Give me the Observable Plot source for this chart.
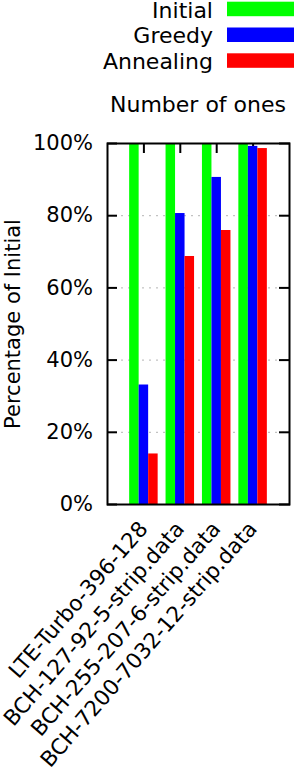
<!DOCTYPE html>
<html><head><meta charset="utf-8">
<script src="https://cdn.jsdelivr.net/npm/d3@7"></script>
<script src="https://cdn.jsdelivr.net/npm/@observablehq/plot@0.6"></script>
<style>
body{margin:0;background:#fff;}
#chart{width:294px;height:772px;position:relative;overflow:hidden;font-family:"DejaVu Sans",sans-serif;background:#fff;}
svg{display:block}
</style></head><body><div id="chart"></div>
<script>
const categories = ["LTE-Turbo-396-128", "BCH-127-92-5-strip.data", "BCH-255-207-6-strip.data", "BCH-7200-7032-12-strip.data"];
const series = ["Initial", "Greedy", "Annealing"];
const initialValues = [100, 100, 100, 100];
const greedyValues = [33.1, 80.6, 90.6, 99.2];
const annealingValues = [14.0, 68.7, 75.9, 98.6];
const seriesColors = ["#00ff00", "#0000ff", "#ff0000"];
const yTicks = [0, 20, 40, 60, 80, 100];
const gridTicks = [20, 40, 60, 80];
const titleText = "Number of ones";
const yLabel = "Percentage of Initial";

const valuesBySeries = [initialValues, greedyValues, annealingValues];
const table = categories.flatMap((c, i) => series.map((s, j) => ({category: c, series: s, value: valuesBySeries[j][i]})));

const chart = document.getElementById("chart");

// Header: legend + title
const header = d3.create("svg").attr("width", 294).attr("height", 120)
  .style("font-family", "DejaVu Sans");
series.forEach((s, i) => {
  header.append("text").attr("x", 213).attr("y", 17.5 + 25.5 * i)
    .attr("text-anchor", "end").attr("font-size", 22).attr("fill", "black").text(s);
  header.append("rect").attr("x", 227).attr("y", 1.7 + 25.8 * i)
    .attr("width", 67).attr("height", 14.5).attr("fill", seriesColors[i]);
});
header.append("text").attr("x", 198).attr("y", 112.3).attr("text-anchor", "middle")
  .attr("font-size", 22).attr("fill", "black").text(titleText);
chart.appendChild(header.node());

const W = 294, mL = 107, mR = 5;
const padIn = 0.217, padOut = 0.6085;
const bandW = (W - mL - mR) / (categories.length - padIn + 2 * padOut) * (1 - padIn);
const barW = bandW / series.length;

const plot = Plot.plot({
  width: W, height: 652,
  marginTop: 23, marginBottom: 268, marginLeft: mL, marginRight: mR,
  style: {fontFamily: "DejaVu Sans", fontSize: "21px", background: "white", color: "black", overflow: "visible"},
  x: {domain: categories, paddingInner: padIn, paddingOuter: padOut, round: false},
  y: {domain: [0, 100]},
  color: {domain: series, range: seriesColors},
  marks: [
    Plot.ruleY(gridTicks, {stroke: "#b4b4b4", strokeDasharray: "2,5"}),
    Plot.axisX({anchor: "top", tickSize: -9, strokeWidth: 2, tickFormat: () => "", label: null}),
    ...series.map((s, j) => Plot.barY(table.filter(d => d.series === s), {
      x: "category", y: "value", fill: "series",
      insetLeft: j * barW, insetRight: (series.length - 1 - j) * barW
    })),
    Plot.axisY(yTicks, {anchor: "left", tickSize: -10, strokeWidth: 2, tickFormat: () => "", label: null}),
    Plot.axisY(yTicks, {anchor: "right", tickSize: -11, strokeWidth: 2, tickFormat: () => "", label: null}),
    Plot.axisY(yTicks, {anchor: "left", tickSize: 0, tickPadding: 14.5, tickFormat: d => d + "%",
      label: yLabel, labelAnchor: "center", labelArrow: "none", labelOffset: 102, fontSize: 21}),
    Plot.axisX({anchor: "bottom", tickSize: 0, tickPadding: 25, dx: 5, tickRotate: -49,
      textAnchor: "end", lineAnchor: "bottom", label: null, fontSize: 21.5}),
    Plot.frame({strokeWidth: 2})
  ]
});
chart.appendChild(plot);
</script></body></html>
